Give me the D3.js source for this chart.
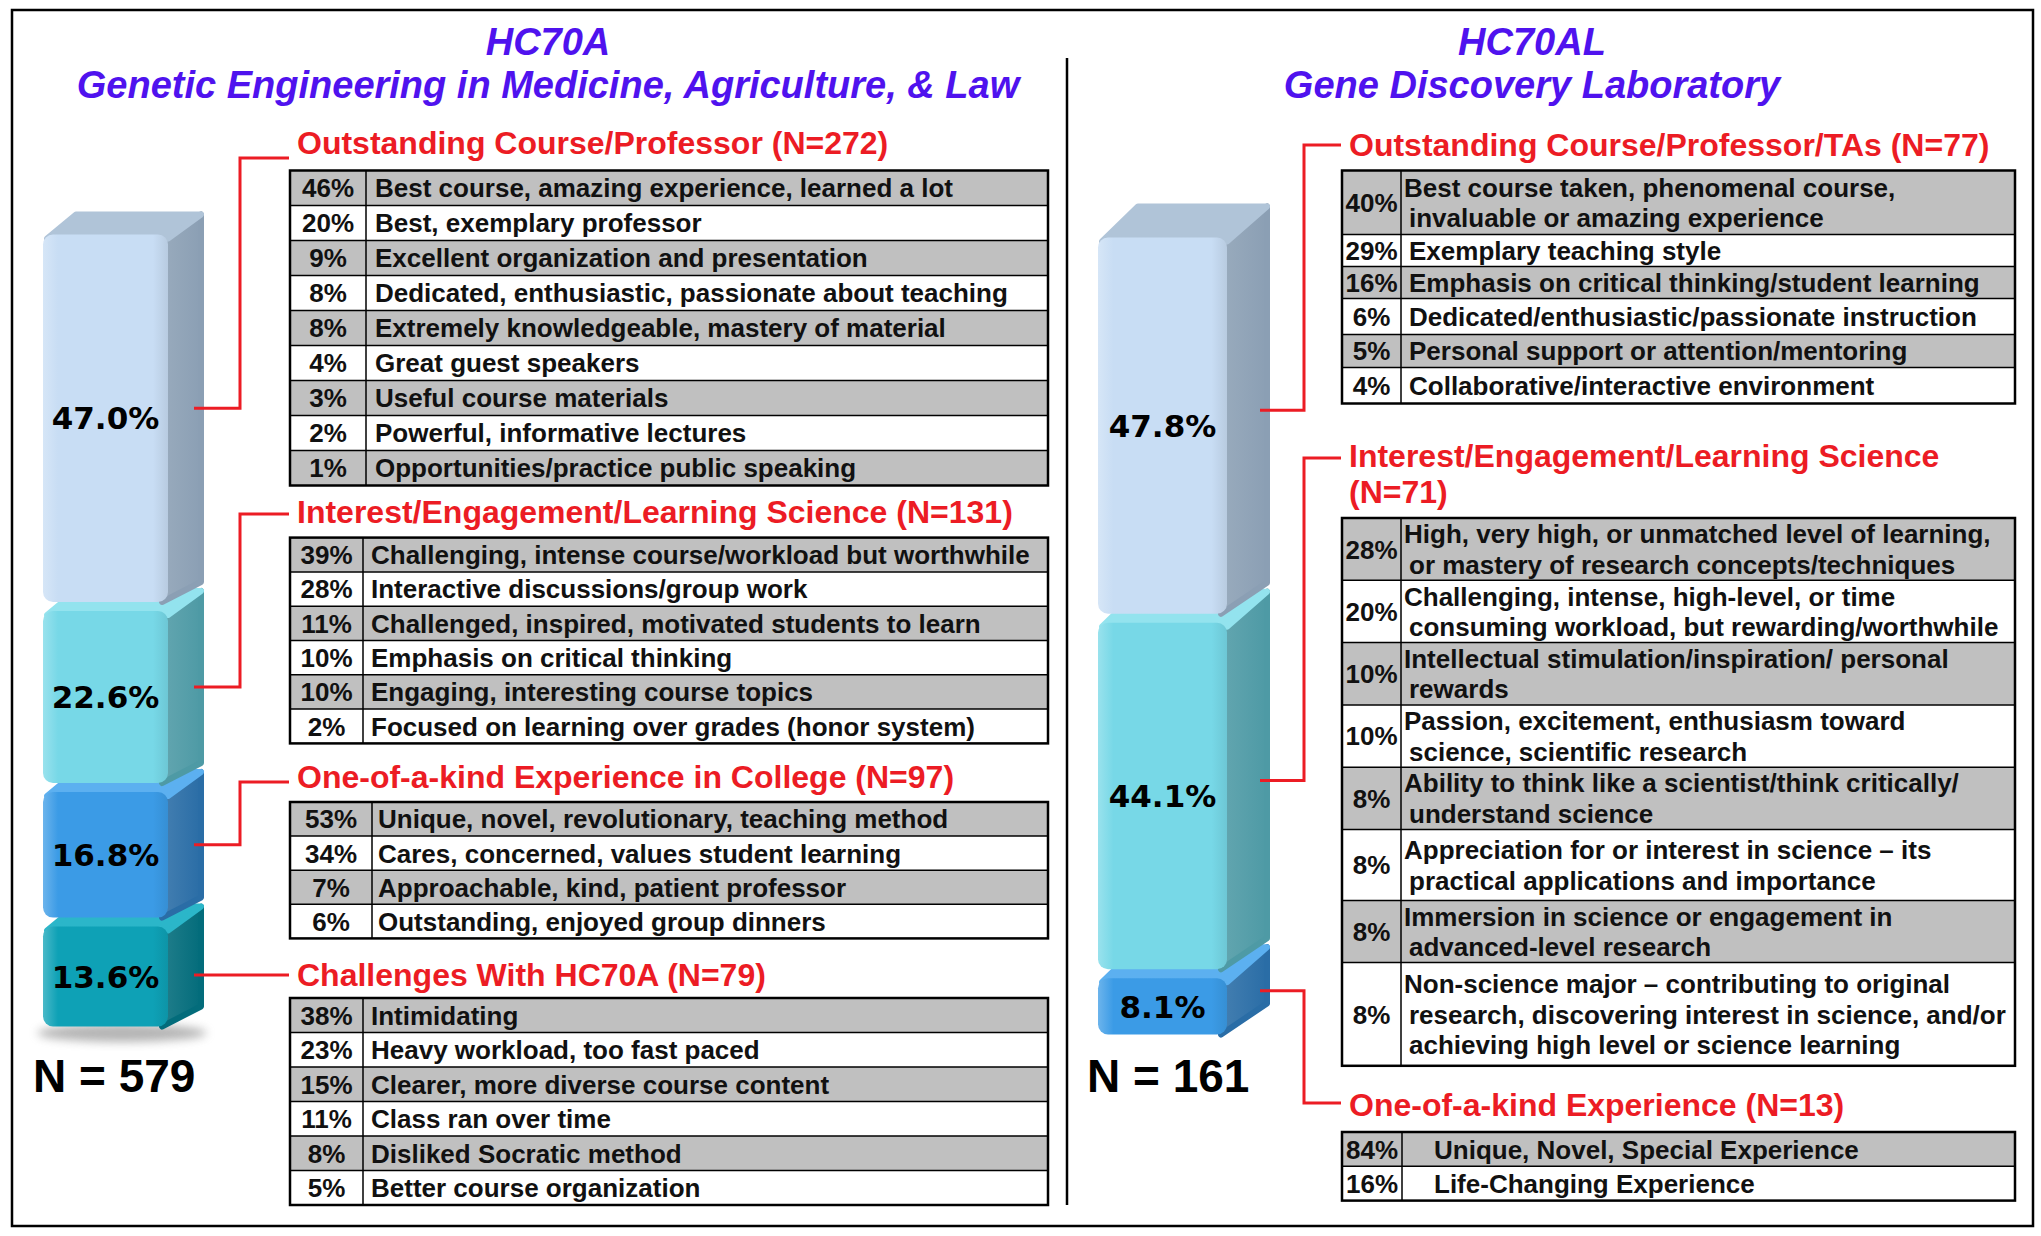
<!DOCTYPE html>
<html><head><meta charset="utf-8">
<script src="https://cdn.jsdelivr.net/npm/d3@7"></script>
<style>
body{margin:0;background:#fff}
svg{display:block}
text{font-family:"Liberation Sans",Arial,Helvetica,sans-serif;font-weight:bold}
text.barlab{font-family:"DejaVu Sans","Liberation Sans",sans-serif}
</style></head><body>
<script>
// ---------------- DATA ----------------
const courses = ["HC70A", "HC70AL"];
const courseTitles = ["Genetic Engineering in Medicine, Agriculture, & Law", "Gene Discovery Laboratory"];
const totalN = [579, 161];

const leftCategories = ["Outstanding Course/Professor", "Interest/Engagement/Learning Science", "One-of-a-kind Experience in College", "Challenges With HC70A"];
const leftShares = [47.0, 22.6, 16.8, 13.6];
const leftGroupN = [272, 131, 97, 79];

const rightCategories = ["Outstanding Course/Professor/TAs", "Interest/Engagement/Learning Science", "One-of-a-kind Experience"];
const rightShares = [47.8, 44.1, 8.1];
const rightGroupN = [77, 71, 13];

const leftOutstandingPct = [46, 20, 9, 8, 8, 4, 3, 2, 1];
const leftOutstandingText = [
  "Best course, amazing experience, learned a lot",
  "Best, exemplary professor",
  "Excellent organization and presentation",
  "Dedicated, enthusiastic, passionate about teaching",
  "Extremely knowledgeable, mastery of material",
  "Great guest speakers",
  "Useful course materials",
  "Powerful, informative lectures",
  "Opportunities/practice public speaking"];

const leftInterestPct = [39, 28, 11, 10, 10, 2];
const leftInterestText = [
  "Challenging, intense course/workload but worthwhile",
  "Interactive discussions/group work",
  "Challenged, inspired, motivated students to learn",
  "Emphasis on critical thinking",
  "Engaging, interesting course topics",
  "Focused on learning over grades (honor system)"];

const leftUniquePct = [53, 34, 7, 6];
const leftUniqueText = [
  "Unique, novel, revolutionary, teaching method",
  "Cares, concerned, values student learning",
  "Approachable, kind, patient professor",
  "Outstanding, enjoyed group dinners"];

const leftChallengePct = [38, 23, 15, 11, 8, 5];
const leftChallengeText = [
  "Intimidating",
  "Heavy workload, too fast paced",
  "Clearer, more diverse course content",
  "Class ran over time",
  "Disliked Socratic method",
  "Better course organization"];

const rightOutstandingPct = [40, 29, 16, 6, 5, 4];
const rightOutstandingText = [
  "Best course taken, phenomenal course,\ninvaluable or amazing experience",
  "Exemplary teaching style",
  "Emphasis on critical thinking/student learning",
  "Dedicated/enthusiastic/passionate instruction",
  "Personal support or attention/mentoring",
  "Collaborative/interactive environment"];

const rightInterestPct = [28, 20, 10, 10, 8, 8, 8, 8];
const rightInterestText = [
  "High, very high, or unmatched level of learning,\nor mastery of research concepts/techniques",
  "Challenging, intense, high-level, or time\nconsuming workload, but rewarding/worthwhile",
  "Intellectual stimulation/inspiration/ personal\nrewards",
  "Passion, excitement, enthusiasm toward\nscience, scientific research",
  "Ability to think like a scientist/think critically/\nunderstand science",
  "Appreciation for or interest in science \u2013 its\npractical applications and importance",
  "Immersion in science or engagement in\nadvanced-level research",
  "Non-science major \u2013 contributing to original\nresearch, discovering interest in science, and/or\nachieving high level or science learning"];

const rightUniquePct = [84, 16];
const rightUniqueText = ["Unique, Novel, Special Experience", "Life-Changing Experience"];

// ---------------- LAYOUT / STYLE ----------------
const W = 2041, H = 1236;
const RED = "#ec1c24", TITLE = "#4f12ee", GRAY = "#c0c0c0";
const segStyles = [
  {front:"#c8ddf4", side:"#8b9fb4", top:"#b0c4d8"},
  {front:"#77d8e7", side:"#4e9aa5", top:"#93e3ee"},
  {front:"#3b9be6", side:"#2a6da6", top:"#5cb0f0"},
  {front:"#0ea1b6", side:"#036c7b", top:"#2bb6c9"}];

const panels = [
  {course: courses[0], title: courseTitles[0], n: totalN[0],
   cats: leftCategories, shares: leftShares, groupN: leftGroupN,
   tables: [[leftOutstandingPct, leftOutstandingText], [leftInterestPct, leftInterestText],
            [leftUniquePct, leftUniqueText], [leftChallengePct, leftChallengeText]],
   titleX: 548, bar: {x: 43, w: 125, dx: 33, dy: -20, y0: 1031, y1: 230, shadow: true},
   nX: 33, elbowX: 240, headX: 297, headY: [143, 512, 777, 975], headLineDy: [15, 2, 5, 0], headWrap: [false, false, false, false],
   tx0: 290, tx1: 1048, tops: [170.5, 537.6, 802, 998],
   rowH: [Array(9).fill(35), Array(6).fill(34.3), Array(4).fill(34.1), Array(6).fill(34.5)],
   divX: [366, 363, 372, 363], textX: [375, 371, 378, 371]},
  {course: courses[1], title: courseTitles[1], n: totalN[1],
   cats: rightCategories, shares: rightShares, groupN: rightGroupN,
   tables: [[rightOutstandingPct, rightOutstandingText], [rightInterestPct, rightInterestText], [rightUniquePct, rightUniqueText]],
   titleX: 1532, bar: {x: 1098, w: 129, dx: 40, dy: -31, y0: 1039, y1: 233, shadow: false},
   nX: 1087, elbowX: 1304, headX: 1349, headY: [145, 456, 1105], headLineDy: [0, 2, -2], headWrap: [false, true, false],
   tx0: 1342, tx1: 2015, tops: [170.5, 518, 1132],
   rowH: [[64, 32, 32, 36, 33, 36], [62.3, 62.3, 62.3, 62.3, 62.3, 71, 62, 103.3], [34.3, 34.3]],
   divX: [1401, 1401, 1402], textX: [1409, 1409, 1434]}
];

// ---------------- DRAW ----------------
const svg = d3.select("body").append("svg").attr("width", W).attr("height", H);
const defs = svg.append("defs");
const blur = defs.append("filter").attr("id", "blur").attr("x", "-50%").attr("y", "-50%").attr("width", "200%").attr("height", "200%");
blur.append("feGaussianBlur").attr("stdDeviation", 5);

segStyles.forEach((s, i) => {
  const gf = defs.append("linearGradient").attr("id", "gf" + i).attr("x1", 0).attr("x2", 1).attr("y1", 0).attr("y2", 0);
  gf.append("stop").attr("offset", "0%").attr("stop-color", d3.interpolateRgb(s.front, "#fff")(0.25));
  gf.append("stop").attr("offset", "12%").attr("stop-color", s.front);
  gf.append("stop").attr("offset", "88%").attr("stop-color", s.front);
  gf.append("stop").attr("offset", "100%").attr("stop-color", d3.interpolateRgb(s.front, "#000")(0.08));
  const gs = defs.append("linearGradient").attr("id", "gs" + i).attr("x1", 0).attr("x2", 1).attr("y1", 0).attr("y2", 0);
  gs.append("stop").attr("offset", "0%").attr("stop-color", d3.interpolateRgb(s.side, "#fff")(0.12));
  gs.append("stop").attr("offset", "100%").attr("stop-color", s.side);
});

// outer frame & divider
svg.append("rect").attr("x", 12).attr("y", 10).attr("width", 2021).attr("height", 1216)
  .attr("fill", "none").attr("stroke", "#000").attr("stroke-width", 2.5);
svg.append("line").attr("x1", 1067).attr("x2", 1067).attr("y1", 58).attr("y2", 1205)
  .attr("stroke", "#000").attr("stroke-width", 2.5);

panels.forEach(p => {
  const g = svg.append("g");
  // titles
  g.append("text").attr("x", p.titleX).attr("y", 42).attr("dy", "0.35em").attr("text-anchor", "middle")
    .attr("font-size", 38).attr("font-style", "italic").attr("fill", TITLE).text(p.course);
  g.append("text").attr("x", p.titleX).attr("y", 85).attr("dy", "0.35em").attr("text-anchor", "middle")
    .attr("font-size", 38).attr("font-style", "italic").attr("fill", TITLE).text(p.title);

  // stacked 3D bar
  const b = p.bar;
  const y = d3.scaleLinear().domain([0, 100]).range([b.y0, b.y1]);
  const gap = 4.5;
  const segs = [];
  let acc = 0;
  for (let i = p.shares.length - 1; i >= 0; i--) {
    segs.push({i, lo: acc, hi: acc + p.shares[i], v: p.shares[i]});
    acc += p.shares[i];
  }
  if (b.shadow) {
    g.append("ellipse").attr("cx", b.x + b.w / 2 + b.dx / 2).attr("cy", y(0) + 2).attr("rx", b.w / 2 + 22).attr("ry", 9)
      .attr("fill", "#777").attr("opacity", 0.55).attr("filter", "url(#blur)");
  }
  const barG = g.append("g");
  segs.forEach(s => {
    const st = segStyles[s.i];
    const yb = y(s.lo) - gap, yt = y(s.hi) + gap;
    const x0 = b.x, x1 = b.x + b.w;
    const sg = barG.append("g");
    sg.append("polygon")
      .attr("points", [[x1 - 6, yt], [x1 + b.dx, yt + b.dy], [x1 + b.dx, yb + b.dy], [x1 - 6, yb]].map(d => d.join(",")).join(" "))
      .attr("fill", "url(#gs" + s.i + ")").attr("stroke", st.side).attr("stroke-width", 6).attr("stroke-linejoin", "round");
    sg.append("polygon")
      .attr("points", [[x0 + 4, yt + 4], [x0 + b.dx, yt + b.dy], [x1 + b.dx, yt + b.dy], [x1, yt + 4]].map(d => d.join(",")).join(" "))
      .attr("fill", st.top).attr("stroke", st.top).attr("stroke-width", 6).attr("stroke-linejoin", "round");
    sg.append("rect").attr("x", x0).attr("y", yt).attr("width", b.w).attr("height", yb - yt)
      .attr("rx", 10).attr("fill", "url(#gf" + s.i + ")");
    g.append("text").attr("class", "barlab").attr("x", x0 + b.w / 2).attr("y", (yt + yb) / 2).attr("dy", "0.36em")
      .attr("text-anchor", "middle").attr("font-size", 31).attr("fill", "#000")
      .text(s.v.toFixed(1) + "%");
    s.sideX = x1 + b.dx - 7;
    s.sideY = (yt + yb) / 2 + b.dy / 2;
  });
  g.append("text").attr("x", p.nX).attr("y", 1075).attr("dy", "0.36em").attr("font-size", 46).attr("fill", "#000")
    .text("N = " + p.n);

  // headings & connectors
  p.cats.forEach((c, i) => {
    const s = segs.find(d => d.i === i);
    const hy = p.headY[i];
    const ly = hy + p.headLineDy[i];
    let pts;
    if (Math.abs(ly - s.sideY) < 12) pts = [[s.sideX, ly], [p.headX - 8, ly]];
    else pts = [[s.sideX, s.sideY], [p.elbowX, s.sideY], [p.elbowX, ly], [p.headX - 8, ly]];
    g.append("path").attr("d", d3.line()(pts)).attr("fill", "none").attr("stroke", RED).attr("stroke-width", 3);
    const label = p.headWrap[i] ? [c, "(N=" + p.groupN[i] + ")"] : [c + " (N=" + p.groupN[i] + ")"];
    label.forEach((t, k) => {
      g.append("text").attr("x", p.headX).attr("y", hy + k * 36).attr("dy", "0.35em")
        .attr("font-size", 32).attr("fill", RED).text(t);
    });
  });

  // tables
  p.tables.forEach(([pcts, texts], ti) => {
    const tg = g.append("g");
    const hs = p.rowH[ti];
    const ys = [p.tops[ti]];
    hs.forEach((h, k) => ys.push(ys[k] + h));
    const rows = pcts.map((v, k) => ({v, t: texts[k], y: ys[k], h: hs[k], k}));
    tg.selectAll("rect.row").data(rows).join("rect").attr("class", "row")
      .attr("x", p.tx0).attr("width", p.tx1 - p.tx0).attr("y", d => d.y).attr("height", d => d.h)
      .attr("fill", d => d.k % 2 === 0 ? GRAY : "#fff");
    tg.selectAll("line.sep").data(rows.slice(1)).join("line").attr("class", "sep")
      .attr("x1", p.tx0).attr("x2", p.tx1).attr("y1", d => d.y).attr("y2", d => d.y)
      .attr("stroke", "#000").attr("stroke-width", 1.5);
    tg.append("line").attr("x1", p.divX[ti]).attr("x2", p.divX[ti]).attr("y1", ys[0]).attr("y2", ys[ys.length - 1])
      .attr("stroke", "#000").attr("stroke-width", 1.5);
    tg.append("rect").attr("x", p.tx0).attr("y", ys[0]).attr("width", p.tx1 - p.tx0).attr("height", ys[ys.length - 1] - ys[0])
      .attr("fill", "none").attr("stroke", "#000").attr("stroke-width", 2.5);
    tg.selectAll("text.pct").data(rows).join("text").attr("class", "pct")
      .attr("x", (p.tx0 + p.divX[ti]) / 2).attr("y", d => d.y + d.h / 2).attr("dy", "0.36em")
      .attr("text-anchor", "middle").attr("font-size", 26).attr("fill", "#111").text(d => d.v + "%");
    rows.forEach(d => {
      const lines = d.t.split("\n");
      lines.forEach((ln, li) => {
        const multi = lines.length > 1;
        tg.append("text")
          .attr("x", multi && li === 0 ? p.textX[ti] - 5 : p.textX[ti])
          .attr("y", d.y + d.h / 2 + (li - (lines.length - 1) / 2) * 30.5).attr("dy", "0.36em")
          .attr("font-size", 26).attr("fill", "#111").text(ln);
      });
    });
  });
});
</script>
</body></html>
